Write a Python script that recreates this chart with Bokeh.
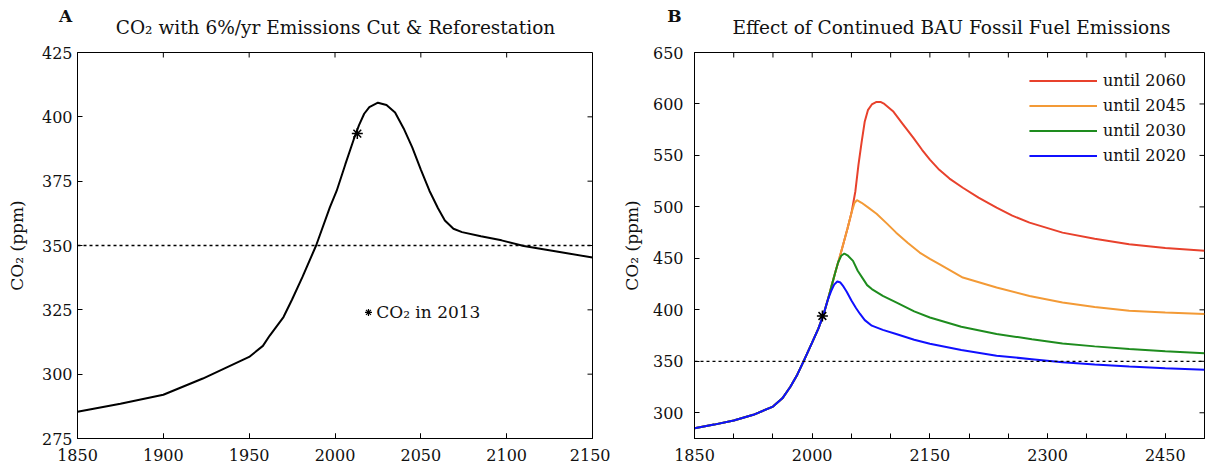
import math
from bokeh.plotting import figure
from bokeh.models import FixedTicker, Range1d, Span, Label
from bokeh.layouts import row, column
from bokeh.embed import file_html
from bokeh.resources import INLINE
from bokeh.core.properties import value

FONT = "DejaVu Serif"
INK = "#111111"

# ---------------- Panel A data ----------------
years_a = [1850, 1875, 1900, 1923, 1950, 1958, 1962, 1970, 1975, 1981, 1989, 1997, 2001,
           2006, 2011, 2014, 2017, 2020, 2025, 2030, 2035, 2040, 2045, 2050, 2055, 2060, 2064,
           2069, 2074, 2085, 2097, 2110, 2130, 2150]
co2_a = [285.4, 288.5, 292, 298.3, 306.7, 311, 315, 322.2, 329, 337.7, 350, 364.8, 371.3,
         381.5, 391.4, 396.8, 401.2, 403.8, 405.5, 404.6, 401.7, 395.5, 388.1, 379.5, 371.3, 364.5,
         359.7, 356.5, 355.2, 353.6, 352, 349.8, 347.6, 345.3]
star_a = (2013, 393.5)
note_a = (2019.5, 324)
xlim_a = (1850, 2150)
ylim_a = (275, 425)
ticks_a_x = [1850, 1900, 1950, 2000, 2050, 2100, 2150]
ticks_a_y = [275, 300, 325, 350, 375, 400, 425]
title_a = "CO\u2082 with 6%/yr Emissions Cut & Reforestation"

# ---------------- Panel B data ----------------
years_hist = [1850, 1875, 1900, 1925, 1950, 1962, 1972, 1981, 1989, 2000, 2008, 2014, 2020]
co2_hist = [285, 288.5, 292.5, 298, 306, 314, 325, 337, 350, 368.4, 382, 394.3, 410]

years_2020 = [2024, 2028, 2032, 2036, 2040, 2044, 2050, 2056, 2061, 2067, 2076, 2090, 2107,
              2130, 2150, 2190, 2235, 2280, 2319, 2360, 2404, 2450, 2500]
co2_2020 = [418, 424.5, 427.5, 426.5, 422.5, 417.5, 409, 401.5, 396, 390, 384.6, 380.5, 376.5,
            371, 367, 361, 355.5, 352, 349, 347, 345, 343.2, 341.7]

years_2030 = [2025, 2030, 2033, 2037, 2041, 2045, 2052, 2058, 2065, 2070, 2076, 2090, 2107,
              2130, 2150, 2190, 2235, 2280, 2319, 2360, 2404, 2450, 2500]
co2_2030 = [424, 438, 446, 452.5, 454.7, 453, 447.6, 438, 429.8, 424, 420.2, 413.5, 407.2,
            398.5, 392.6, 383.5, 376.5, 371.5, 367.4, 364.5, 362, 359.8, 357.8]

years_2045 = [2025, 2030, 2035, 2040, 2045, 2050, 2054, 2057, 2063, 2072, 2082, 2095, 2107,
              2122, 2137, 2150, 2162, 2192, 2235, 2277, 2319, 2360, 2404, 2450, 2500]
co2_2045 = [424, 438, 451, 465, 479, 494, 504, 506.5, 504, 499, 493.4, 484, 475,
            465, 455.6, 449.5, 444.4, 431.4, 421.7, 413.5, 407.2, 402.8, 399.1, 397.3, 395.9]

years_2060 = [2025, 2030, 2035, 2040, 2045, 2050, 2055, 2059, 2063, 2067, 2071, 2076, 2082,
              2087, 2092, 2103, 2115, 2129, 2140, 2150, 2162, 2175, 2192, 2212, 2235, 2255,
              2277, 2319, 2360, 2404, 2450, 2500]
co2_2060 = [424, 438, 451, 465, 479, 494, 515, 541, 563, 583, 594, 599.5, 602,
            602, 600, 593, 581, 567, 555.5, 546, 536, 527.5, 518.6, 509, 499.2, 491.5,
            484.7, 475, 469, 463.8, 460, 457.3]

star_b = (2013, 394)
xlim_b = (1850, 2500)
ylim_b = (275, 650)
ticks_b_x = list(range(1850, 2501, 50))
labeled_b_x = [1850, 2000, 2150, 2300, 2450]
ticks_b_y = [300, 350, 400, 450, 500, 550, 600, 650]
title_b = "Effect of Continued BAU Fossil Fuel Emissions"

series_b = [
    ("until 2060", years_2060, co2_2060, "#e8412c"),
    ("until 2045", years_2045, co2_2045, "#f39a36"),
    ("until 2030", years_2030, co2_2030, "#1e8c1e"),
    ("until 2020", years_2020, co2_2020, "#1010ff"),
]


def setup(p, xlim, ylim, x_major, x_minor, y_ticks, ystand, ylab_stand):
    p.xgrid.visible = False
    p.ygrid.visible = False
    p.outline_line_color = "black"
    p.outline_line_width = 1
    xa = p.xaxis[0]
    ya = p.yaxis[0]
    xa.ticker = FixedTicker(ticks=x_major, minor_ticks=x_minor)
    ya.ticker = FixedTicker(ticks=y_ticks)
    for ax in (xa, ya):
        ax.major_tick_in = 5
        ax.major_tick_out = 0
        ax.minor_tick_in = 5
        ax.minor_tick_out = 0
        ax.axis_line_color = "black"
        ax.major_tick_line_color = "black"
        ax.minor_tick_line_color = "black"
        ax.major_label_text_font = FONT
        ax.major_label_text_font_size = "16px"
        ax.major_label_text_color = INK
    xa.major_label_standoff = 10
    ya.major_label_standoff = ystand
    ya.axis_label = "CO\u2082 (ppm)"
    ya.axis_label_text_font = FONT
    ya.axis_label_text_font_size = "17px"
    ya.axis_label_text_font_style = "normal"
    ya.axis_label_text_color = INK
    ya.axis_label_standoff = ylab_stand
    # inward tick marks on the top and right edges of the box
    p.ray(x=x_minor, y=[ylim[1]] * len(x_minor), length=5, length_units="screen",
          angle=-math.pi / 2, line_color="black", line_width=1)
    p.ray(x=[xlim[1]] * len(y_ticks), y=y_ticks, length=5, length_units="screen",
          angle=math.pi, line_color="black", line_width=1)


# ---------------- header (panel letters and titles) ----------------
HEAD_H = 44
head = figure(width=1206, height=HEAD_H, x_range=Range1d(0, 1206), y_range=Range1d(HEAD_H, 0),
              output_backend="svg", toolbar_location=None, title_location=None,
              x_axis_type=None, y_axis_type=None, min_border=0)
head.outline_line_color = None
head.xgrid.visible = False
head.ygrid.visible = False
head.text(x=[65, 674], y=[15, 15], text=["A", "B"], text_font=value(FONT),
          text_font_style="bold", text_font_size="17px", text_align="center",
          text_baseline="middle", text_color=INK)
head.text(x=[335, 951], y=[27, 27], text=[title_a, title_b], text_font=value(FONT),
          text_font_size="18.5px", text_align="center", text_baseline="middle", text_color=INK)

# ---------------- Panel A ----------------
PH = 425
pA = figure(width=610, height=PH, x_range=Range1d(*xlim_a), y_range=Range1d(*ylim_a),
            output_backend="svg", toolbar_location=None, title_location=None,
            min_border_left=77, min_border_right=18, min_border_top=8, min_border_bottom=PH - 8 - 386)
setup(pA, xlim_a, ylim_a, ticks_a_x, ticks_a_x, ticks_a_y, ystand=5, ylab_stand=12)
pA.add_layout(Span(location=350, dimension="width", line_color="black", line_dash="3 3",
                   line_width=1.3))
pA.line(years_a, co2_a, line_color="black", line_width=2)
pA.scatter([star_a[0]], [star_a[1]], marker="asterisk", size=11, line_color="black", line_width=1.5)
pA.scatter([note_a[0]], [note_a[1]], marker="asterisk", size=7, line_color="black", line_width=1.2)
pA.add_layout(Label(x=note_a[0] + 4.5, y=note_a[1], text="CO\u2082 in 2013", text_font=FONT,
                    text_font_size="17px", text_baseline="middle", text_color=INK))

# ---------------- Panel B ----------------
pB = figure(width=596, height=PH, x_range=Range1d(*xlim_b), y_range=Range1d(*ylim_b),
            output_backend="svg", toolbar_location=None, title_location=None,
            min_border_left=84, min_border_right=2, min_border_top=8, min_border_bottom=PH - 8 - 386)
setup(pB, xlim_b, ylim_b, labeled_b_x, ticks_b_x, ticks_b_y, ystand=11, ylab_stand=8)
pB.add_layout(Span(location=350, dimension="width", line_color="black", line_dash="3 3",
                   line_width=1.3))
for name, yrs, vals, col in series_b:
    pB.line(years_hist + yrs, co2_hist + vals, line_color=col, line_width=2, legend_label=name)
pB.scatter([star_b[0]], [star_b[1]], marker="asterisk", size=11, line_color="black", line_width=1.5)

lg = pB.legend[0]
lg.location = "top_right"
lg.border_line_color = None
lg.background_fill_alpha = 0
lg.label_text_font = FONT
lg.label_text_font_size = "16px"
lg.label_text_color = INK
lg.glyph_width = 68
lg.glyph_height = 21
lg.label_height = 21
lg.spacing = 4
lg.padding = 15
lg.margin = 18
lg.label_standoff = 6

layout = column(head, row(pA, pB))
open("out.html", "w").write(file_html(layout, INLINE))
